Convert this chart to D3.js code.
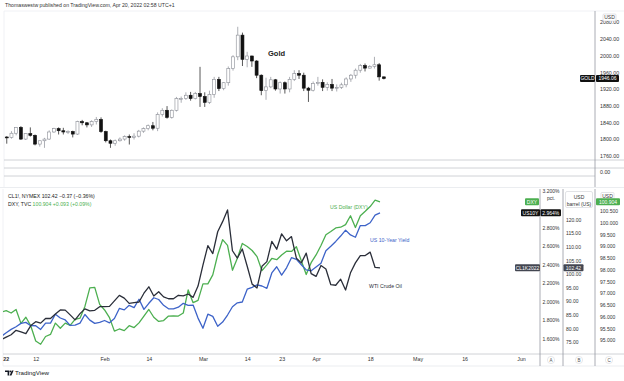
<!DOCTYPE html>
<html>
<head>
<meta charset="utf-8">
<script src="https://d3js.org/d3.v7.min.js"></script>
<style>
body{margin:0;background:#fff;}
svg{display:block;font-family:"Liberation Sans",Arial,sans-serif;}
</style>
</head>
<body>
<script>
var w = 624, h = 381;

// gold daily candles, weekdays from 2021-12-29 to 2022-04-20
var goldOpen = [1806,1805,1815, 1829,1801,1814,1810,1789, 1797,1801,1818,1826,1821, 1818,1819,1813,1843,1840,
  1835,1843,1848,1819,1797, 1791, 1797,1801,1807,1805, 1808,1820,1826,1833,1827, 1860,1870,1853,1870,1898,
  1898,1906,1898,1910,1903, 1889, 1908,1944,1922,1936, 1970,1998,2050,1992,2000, 1988,1954,1917,1926,1943,
  1921,1936,1921,1944,1958, 1954,1923,1918,1934, 1937, 1925,1932,1923,1925,1931, 1945,1954,1966,1977,1971,
  1975,1979,1950];
var goldHigh = [1808,1820,1830, 1832,1815,1829,1812,1797, 1804,1822,1828,1829,1828, 1822,1821,1845,1847,1842,
  1846,1854,1853,1821,1800, 1800, 1805,1810,1812,1815, 1823,1829,1836,1842,1865, 1875,1880,1872,1902,1903,
  1913,1914,1914,1974,1913, 1917, 1950,1950,1937,1975, 2002,2070,2056,2010,2001, 1990,1956,1948,1950,1945,
  1939,1939,1950,1966,1966, 1960,1926,1939,1950, 1944, 1937,1945,1932,1936,1949, 1957,1970,1981,1982,1978,
  1998,1983,1951];
var goldLow = [1790,1802,1810, 1799,1799,1807,1786,1783, 1780,1799,1816,1812,1812, 1813,1805,1811,1834,1829,
  1830,1836,1816,1793,1780, 1785, 1795,1797,1788,1800, 1805,1816,1822,1822,1820, 1855,1850,1850,1867,1888,
  1895,1893,1896,1878,1878, 1885, 1900,1916,1918,1929, 1965,1990,1976,1973,1974, 1947,1906,1895,1923,1917,
  1910,1910,1913,1940,1945, 1916,1890,1915,1929, 1916, 1917,1916,1915,1921,1925, 1938,1946,1960,1963,1970,
  1970,1941,1944];
var goldClose = [1805,1815,1829, 1801,1814,1810,1789,1797, 1801,1818,1826,1821,1818, 1819,1813,1843,1840,1835,
  1843,1848,1819,1797,1791, 1797, 1801,1807,1805,1808, 1820,1826,1833,1827,1860, 1870,1853,1870,1898,1898,
  1906,1898,1910,1903,1889, 1908, 1944,1922,1936,1970, 1998,2050,1992,2000,1988, 1954,1917,1926,1943,1921,
  1936,1921,1944,1958,1954, 1923,1918,1934,1937, 1925, 1932,1923,1925,1931,1945, 1954,1966,1977,1971,1975,
  1979,1950,1946.06];

// lower chart closes, weekdays from 2022-01-03 to 2022-04-20
var wti = [76.08,76.99,77.85,79.46,78.90, 78.23,81.22,82.64,82.12,83.82, 83.82,85.43,86.96,86.90,85.14,
  83.31,85.60,87.35,86.61,86.82, 88.15, 88.20,88.26,90.27,92.31, 91.32,89.36,89.66,89.88,93.10,
  95.46,92.07,93.66,91.76,91.07, 91.07,92.35,92.10,92.81,91.59, 95.72, 103.41,110.60,107.67,115.68,
  119.40,123.70,108.70,106.02,109.33, 103.01,96.44,95.04,102.98,104.70, 112.12,109.27,114.93,112.34,113.90,
  105.96,104.24,107.82,100.28, 99.27, 103.28,102.00,96.23,96.03,98.26, 94.29,100.60,104.25,106.95,106.95,
  108.21,102.56,102.42];
var dxy = [96.21,96.27,96.17,96.32,95.73, 95.99,95.62,94.98,94.84,95.17, 95.26,95.74,95.52,95.74,95.64,
  95.90,95.95,96.45,97.24,97.26, 96.54, 96.30,95.97,95.40,95.49, 95.42,95.63,95.55,95.75,96.04,
  96.32,95.99,95.81,95.85,96.04, 96.05,96.04,96.17,97.15,96.61, 96.71, 97.41,97.41,97.79,98.65,
  99.29,99.05,97.99,98.50,99.13, 99.00,98.83,98.57,97.97,98.22, 98.49,98.44,98.64,98.80,98.79,
  98.99,98.39,97.81,98.31, 98.64, 99.04,99.50,99.64,99.79,99.82, 99.93,100.31,99.81,100.31,100.50,
  100.70,100.97,100.904];
var us10y = [1.628,1.668,1.704,1.733,1.769, 1.780,1.744,1.743,1.703,1.771, 1.771,1.867,1.827,1.806,1.747,
  1.751,1.772,1.865,1.804,1.769, 1.780, 1.800,1.775,1.822,1.930, 1.915,1.964,1.940,2.030,1.920,
  1.986,2.046,2.027,1.964,1.926, 1.926,1.944,1.986,1.964,1.967, 1.826, 1.716,1.868,1.845,1.737,
  1.783,1.859,1.949,1.991,2.000, 2.139,2.159,2.185,2.173,2.148, 2.314,2.381,2.290,2.370,2.479,
  2.461,2.403,2.347,2.337, 2.379, 2.420,2.555,2.603,2.655,2.713, 2.777,2.725,2.700,2.826,2.826,
  2.857,2.940,2.964];

var upperTicks = [["2022-01-03","2022"],["2022-01-17","17"],["2022-02-01","Feb"],["2022-02-14","14"],
  ["2022-03-01","Mar"],["2022-03-14","14"],["2022-03-23","23"],["2022-04-01","Apr"],["2022-04-18","18"],
  ["2022-05-02","May"],["2022-05-16","16"],["2022-06-01","Jun"],["2022-06-13","13"]];
var lowerTicks = [["2022-01-03","22"],["2022-01-12","12"],["2022-02-01","Feb"],["2022-02-14","14"],
  ["2022-03-01","Mar"],["2022-03-14","14"],["2022-03-23","23"],["2022-04-01","Apr"],["2022-04-18","18"],
  ["2022-05-02","May"],["2022-05-16","16"],["2022-06-01","Jun"]];
var goldTicks = [1760,1800,1840,1880,1920,1960,2000,2040,2080];
var pctTicks = [1.6,1.8,2.0,2.2,2.4,2.6,2.8,3.2];
var oilTicks = [75,80,85,90,95,100,105,110,115,120];
var dxyTicks = [95,95.5,96,96.5,97,97.5,98,98.5,99,99.5,100,100.5];

var green = "#4caf50", blue = "#3d63c8", dark = "#2a2e39";

// trading-day index counted from Mon 2022-01-03
var parse = d3.timeParse("%Y-%m-%d");
var base = parse("2022-01-03");
function tIndex(d) {
  var n = d3.timeDay.count(base, d);
  var wk = Math.floor(n / 7);
  return wk * 5 + (n - wk * 7);
}
function weekdays(from, to) {
  return d3.timeDay.range(parse(from), d3.timeDay.offset(parse(to), 1))
    .filter(d => d.getDay() > 0 && d.getDay() < 6);
}
var goldDays = weekdays("2021-12-29", "2022-04-20");
var lineDays = weekdays("2022-01-03", "2022-04-20");

var candles = goldDays.map((d, i) => ({i: tIndex(d), o: goldOpen[i], h: goldHigh[i], l: goldLow[i], c: goldClose[i]}));

// scales
var xu = d3.scaleLinear().domain([0, 115]).range([20.9, 563]);
var yu = d3.scaleLinear().domain([1760, 2080]).range([156.2, 22.6]);
var xl = d3.scaleLinear().domain([0, 77, 107]).range([1.3, 380, 521]);
var yA = d3.scaleLinear().domain([1.6, 3.2]).range([339, 191]);
var yB = d3.scaleLinear().domain([75, 120]).range([342.5, 220]);
var yC = d3.scaleLinear().domain([95, 100.5]).range([340.5, 211.25]);

var svg = d3.select("body").append("svg")
  .attr("width", w)
  .attr("height", h);

svg.append("rect").attr("width", w).attr("height", h).attr("fill", "white");

var defs = svg.append("defs");
defs.append("clipPath").attr("id", "clipU").append("rect")
  .attr("x", 4).attr("y", 11).attr("width", 591).attr("height", 149);
defs.append("clipPath").attr("id", "clipUx").append("rect")
  .attr("x", 4).attr("y", 176).attr("width", 591).attr("height", 11);
defs.append("clipPath").attr("id", "clipL").append("rect")
  .attr("x", 3).attr("y", 189).attr("width", 537).attr("height", 165);

// header
svg.append("text")
  .attr("x", 5).attr("y", 7)
  .attr("font-size", 5.2).attr("fill", "#333")
  .text("Thomaswestw published on TradingView.com, Apr 20, 2022 02:58 UTC+1");

// frame lines
var lineColor = "#d6d8de";
function hline(x1, x2, y, col) {
  svg.append("line").attr("x1", x1).attr("x2", x2).attr("y1", y).attr("y2", y)
    .attr("stroke", col || lineColor).attr("stroke-width", 0.8);
}
function vline(x, y1, y2, col) {
  svg.append("line").attr("x1", x).attr("x2", x).attr("y1", y1).attr("y2", y2)
    .attr("stroke", col || lineColor).attr("stroke-width", 0.8);
}
hline(4, 624, 11, "#eceef2");
vline(4, 11, 187, "#eceef2");
hline(4, 624, 160, "#c4c6cc");
hline(4, 624, 168, "#c4c6cc");
hline(4, 595, 176, "#c4c6cc");
vline(595, 11, 187, "#9598a1");
hline(0, 624, 187.5, "#e6e8ec");

vline(3, 189, 366, "#eceef2");
hline(3, 624, 354, "#c4c6cc");
hline(3, 624, 366, "#e6e8ec");
vline(540, 189, 366, "#9598a1");
vline(563, 189, 366, "#9598a1");
vline(595, 189, 366, "#9598a1");

// ---- upper chart: gold candles
var gU = svg.append("g").attr("clip-path", "url(#clipU)");
var bw = 3;
gU.selectAll("line.wick").data(candles).enter().append("line")
  .attr("class", "wick")
  .attr("x1", d => xu(d.i)).attr("x2", d => xu(d.i))
  .attr("y1", d => yu(d.h)).attr("y2", d => yu(d.l))
  .attr("stroke", d => d.c >= d.o ? "#8a8d95" : "#111")
  .attr("stroke-width", 0.7);
gU.selectAll("rect.body").data(candles).enter().append("rect")
  .attr("class", "body")
  .attr("x", d => xu(d.i) - bw / 2)
  .attr("y", d => yu(Math.max(d.o, d.c)))
  .attr("width", bw)
  .attr("height", d => Math.max(0.9, Math.abs(yu(d.o) - yu(d.c))))
  .attr("fill", d => d.c >= d.o ? "#fff" : "#111")
  .attr("stroke", d => d.c >= d.o ? "#8a8d95" : "#111")
  .attr("stroke-width", 0.6);

gU.append("text")
  .attr("x", 268).attr("y", 56)
  .attr("font-size", 7.5).attr("font-weight", "bold").attr("fill", "#222")
  .text("Gold");

// upper price axis
svg.append("g").selectAll("text").data(goldTicks).enter().append("text")
  .attr("x", 600).attr("y", d => yu(d)).attr("dy", "0.35em")
  .attr("font-size", 5.3).attr("fill", "#333")
  .text(d => d3.format(".2f")(d));
svg.append("text").attr("x", 600).attr("y", 172).attr("dy", "0.35em")
  .attr("font-size", 5.3).attr("fill", "#333").text("0.00");

function box(x, y, bwid, bh, txt, fill, col, stroke) {
  svg.append("rect").attr("x", x).attr("y", y - bh / 2).attr("width", bwid).attr("height", bh)
    .attr("rx", 1).attr("fill", fill).attr("stroke", stroke || "none").attr("stroke-width", 0.5);
  svg.append("text").attr("x", x + bwid / 2).attr("y", y).attr("dy", "0.35em")
    .attr("text-anchor", "middle").attr("font-size", 5).attr("fill", col).text(txt);
}
box(603, 17.5, 13, 7, "USD", "#fff", "#333", "#c4c6cc");
box(580, yu(1946.06), 15, 7, "GOLD", "#111", "#fff");
box(596, yu(1946.06), 23, 7, "1946.06", "#111", "#fff");

// upper time axis
var axU = d3.axisBottom(xu)
  .tickValues(upperTicks.map(t => tIndex(parse(t[0]))))
  .tickFormat((d, i) => upperTicks[i][1])
  .tickSize(0);
var gAxU = svg.append("g").attr("clip-path", "url(#clipUx)")
  .attr("transform", "translate(0,176)").call(axU);
gAxU.select(".domain").remove();
gAxU.selectAll("text").attr("font-size", 5.3).attr("fill", "#333").attr("dy", "0.75em").attr("y", 3)
  .attr("font-family", "Liberation Sans, Arial, sans-serif")
  .attr("font-weight", (d, i) => i === 0 ? "bold" : "normal");

// ---- lower chart: three lines
var gL = svg.append("g").attr("clip-path", "url(#clipL)");
function drawLine(vals, yScale, col) {
  var pts = lineDays.map((d, i) => [xl(tIndex(d)), yScale(vals[i])]);
  gL.append("path")
    .attr("d", d3.line()(pts))
    .attr("fill", "none").attr("stroke", col).attr("stroke-width", 1.3)
    .attr("stroke-linejoin", "round");
}
drawLine(dxy, yC, green);
drawLine(us10y, yA, blue);
drawLine(wti, yB, dark);

gL.append("text").attr("x", 330).attr("y", 209).attr("font-size", 5.2).attr("fill", green).text("US Dollar (DXY)");
gL.append("text").attr("x", 370).attr("y", 242).attr("font-size", 5.2).attr("fill", blue).text("US 10-Year Yield");
gL.append("text").attr("x", 369).attr("y", 288).attr("font-size", 5.2).attr("fill", dark).text("WTI Crude Oil");

// legend
var lg1 = svg.append("text").attr("x", 8).attr("y", 198).attr("font-size", 5.2).attr("fill", "#222");
lg1.append("tspan").text("CL1!, NYMEX  ");
lg1.append("tspan").text("102.42  \u22120.37 (\u22120.36%)");
var lg2 = svg.append("text").attr("x", 8).attr("y", 206).attr("font-size", 5.2).attr("fill", "#222");
lg2.append("tspan").text("DXY, TVC  ");
lg2.append("tspan").attr("fill", green).text("100.904  +0.093 (+0.09%)");

// lower price axes
svg.append("g").selectAll("text").data(pctTicks).enter().append("text")
  .attr("x", 542.5).attr("y", d => yA(d)).attr("dy", "0.35em")
  .attr("font-size", 5).attr("fill", "#333")
  .text(d => d.toFixed(3) + "%");
svg.append("g").selectAll("text").data(oilTicks).enter().append("text")
  .attr("x", 566).attr("y", d => yB(d)).attr("dy", "0.35em")
  .attr("font-size", 5).attr("fill", "#333")
  .text(d => d.toFixed(2));
svg.append("g").selectAll("text").data(dxyTicks).enter().append("text")
  .attr("x", 600).attr("y", d => yC(d)).attr("dy", "0.35em")
  .attr("font-size", 5).attr("fill", "#333")
  .text(d => d.toFixed(3));

box(544, 198, 14, 6, "pct.", "#fff", "#333");
svg.append("rect").attr("x", 565.5).attr("y", 191.5).attr("width", 27).attr("height", 16)
  .attr("rx", 1.5).attr("fill", "#fff").attr("stroke", "#c4c6cc").attr("stroke-width", 0.5);
svg.append("text").attr("x", 579).attr("y", 197).attr("dy", "0.35em").attr("text-anchor", "middle")
  .attr("font-size", 5).attr("fill", "#333").text("USD");
svg.append("text").attr("x", 579).attr("y", 204).attr("dy", "0.35em").attr("text-anchor", "middle")
  .attr("font-size", 5).attr("fill", "#333").text("barrel (US)");
box(601, 196, 13, 7, "USD", "#fff", "#333", "#c4c6cc");

box(525, yC(100.904), 14, 7, "DXY", green, "#fff");
box(596, yC(100.904), 24, 7, "100.904", green, "#fff");
box(521, yA(2.964), 19, 7, "US10Y", "#111", "#fff");
box(540.5, yA(2.964), 20.5, 7, "2.964%", "#111", "#fff");
box(515, yB(102.42), 25, 7, "CL1K2022", "#434651", "#fff");
box(563.5, yB(102.42), 20, 7, "102.42", "#434651", "#fff");

// lower time axis
var axL = d3.axisBottom(xl)
  .tickValues(lowerTicks.map(t => tIndex(parse(t[0]))))
  .tickFormat((d, i) => lowerTicks[i][1])
  .tickSize(0);
var gAxL = svg.append("g")
  .attr("transform", "translate(0,354)").call(axL);
gAxL.select(".domain").remove();
gAxL.selectAll("text").attr("font-size", 5.3).attr("fill", "#333").attr("dy", "0.75em").attr("y", 3)
  .attr("font-family", "Liberation Sans, Arial, sans-serif")
  .attr("font-weight", (d, i) => i === 0 ? "bold" : "normal")
  .attr("text-anchor", (d, i) => i === 0 ? "start" : "middle")
  .attr("dx", (d, i) => i === 0 ? 1.5 : 0);

// scale letters
[["A", 551], ["B", 579], ["C", 609]].forEach(function(s) {
  svg.append("circle").attr("cx", s[1]).attr("cy", 360).attr("r", 3.6)
    .attr("fill", "#fff").attr("stroke", "#d6d8de").attr("stroke-width", 0.6);
  svg.append("text").attr("x", s[1]).attr("y", 360).attr("dy", "0.35em").attr("text-anchor", "middle")
    .attr("font-size", 4.5).attr("fill", "#555").text(s[0]);
});

// footer logo
svg.append("path").attr("d", "M5,370.5h4.2v5h-1.6v-3.4h-2.6z").attr("fill", "#131722");
svg.append("circle").attr("cx", 10.3).attr("cy", 371.4).attr("r", 0.9).attr("fill", "#131722");
svg.append("path").attr("d", "M11.8,370.5h1.8l-2.2,5h-1.8z").attr("fill", "#131722");
svg.append("text").attr("x", 15).attr("y", 375.3).attr("font-size", 6.2).attr("fill", "#131722")
  .text("TradingView");
</script>
</body>
</html>
